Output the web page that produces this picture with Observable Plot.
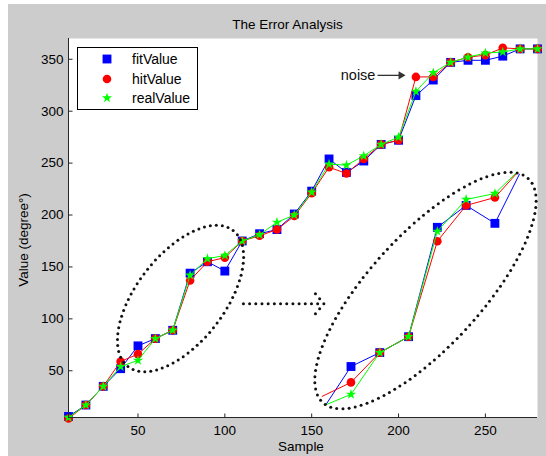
<!DOCTYPE html>
<html><head><meta charset="utf-8">
<script src="https://cdn.jsdelivr.net/npm/d3@7"></script>
<script src="https://cdn.jsdelivr.net/npm/@observablehq/plot@0.6"></script>
<style>
body{margin:0;background:#fff;font-family:"Liberation Sans",Arial,sans-serif;color:#000;}
#fig{position:absolute;left:8px;top:4px;width:538px;height:452px;background:#cccccc;}
.lbl{position:absolute;white-space:nowrap;transform:translate(-50%,-50%);font-size:13.5px;line-height:normal;}
#legend{position:absolute;left:77px;top:47px;width:119px;height:61px;border:1px solid #000;background:#fff;}
.li{position:absolute;font-size:14px;white-space:nowrap;transform:translateY(-50%);}
.lm{position:absolute;}
</style></head><body>
<div id="fig"></div>
<div class="lbl" style="left:287.5px;top:24px">The Error Analysis</div>
<div class="lbl" style="left:301px;top:446px">Sample</div>
<div class="lbl" style="left:22.5px;top:240px;transform:translate(-50%,-50%) rotate(-90deg)">Value (degree°)</div>
<div id="legend"></div>
<script>
// ---- data ----
const samples = [10,20,30,40,50,60,70,80,90,100,110,120,130,140,150,160,170,180,190,200,210,220,230,240,250,260,270,280];
const fitValue = [6,17,35,52,74,81,89,144,155,146,175,182,186,201,223,254,241,252,268,272,315,330,347,349,349,353,360,360];
const hitValue = [4,17,35,59,66,81,89,137,155,159,175,180,186,199,221,246,240,254,268,272,333,333,347,352,354,361,360,360];
const realValue = [5,17,35,54,60,81,89,142,158,161,175,181,193,200,222,249,248,257,268,275,319,337,347,352,356,357,360,360];
const seriesNames = ["fitValue","hitValue","realValue"];
const xTicks = [50,100,150,200,250];
const yTicks = [50,100,150,200,250,300,350];
const noiseLabel = "noise";

// ---- layout / annotation config ----
const W=538,H=452,mL=60,mR=9,mT=34,mB=39;
const xDom=[10,280], yDom=[5,370];
const pxX=(W-mL-mR)/(xDom[1]-xDom[0]), pxY=(H-mT-mB)/(yDom[1]-yDom[0]);
const styles = [
  {color:"#0000ff", symbol:"square", r:5},
  {color:"#ff0000", symbol:"circle", r:4.3},
  {color:"#00ff00", symbol:"star", r:3.2}
];
// zoomed inset: source range and mapping
const insetRange=[40,110], insetMarkers=[50,100];
const insetFrom=[60,80], insetTo=[189.2,65.6], insetK=[1.657,1.915];
const ellipses=[{x:74.5,y:119.6,a:86,b:44,angle:-52.3},{x:215.5,y:127.3,a:152,b:56,angle:-47.5}];
const dotArrow={x1:110.7,x2:157,y:114.5};
const noiseArrow={x1:187.9,x2:204,y:334.5,textX:186.7};

const toData=(x,y,dxp,dyp)=>({x:x+dxp/pxX,y:y-dyp/pxY});
function ellipseDots(e,gap){
  const N=3000,th=e.angle*Math.PI/180,pts=[];let len=[0];
  for(let i=0;i<=N;i++){const t=2*Math.PI*i/N;const ex=e.a*Math.cos(t),ey=e.b*Math.sin(t);
    pts.push([ex*Math.cos(th)-ey*Math.sin(th),ex*Math.sin(th)+ey*Math.cos(th)]);
    if(i>0)len.push(len[i-1]+Math.hypot(pts[i][0]-pts[i-1][0],pts[i][1]-pts[i-1][1]));}
  const P=len[N],n=Math.round(P/gap),out=[];let j=0;
  for(let k=0;k<n;k++){const L=k*P/n;while(len[j]<L)j++;out.push(toData(e.x,e.y,pts[j][0],pts[j][1]));}
  return out;
}
const annDots=[...ellipseDots(ellipses[0],6),...ellipseDots(ellipses[1],6.2)];
{ const x2p=(dotArrow.x2-dotArrow.x1)*pxX,n=Math.round(x2p/6);
  for(let k=0;k<=n;k++)annDots.push(toData(dotArrow.x1,dotArrow.y,k*x2p/n,0));
  for(const s of [1,2])for(const sg of [-1,1])annDots.push(toData(dotArrow.x2,dotArrow.y,-4.2*s,sg*5*s));
}

const values=[fitValue,hitValue,realValue];
const main=values.map(v=>samples.map((s,i)=>({x:s,y:v[i]})));
const insetRows=values.map(v=>samples.map((s,i)=>({s,x:insetTo[0]+insetK[0]*(s-insetFrom[0]),y:insetTo[1]+insetK[1]*(v[i]-insetFrom[1])}))
  .filter(d=>d.s>=insetRange[0]&&d.s<=insetRange[1]));

const marks=[Plot.frame({fill:"white",stroke:"none"})];
values.forEach((v,k)=>{const st=styles[k];
  marks.push(Plot.line(main[k],{x:"x",y:"y",stroke:st.color,strokeWidth:1}));
  marks.push(Plot.dot(main[k],{x:"x",y:"y",symbol:st.symbol,r:st.r,fill:st.color,stroke:"none"}));
});
values.forEach((v,k)=>{const st=styles[k];
  marks.push(Plot.line(insetRows[k],{x:"x",y:"y",stroke:st.color,strokeWidth:1}));
  marks.push(Plot.dot(insetRows[k].filter(d=>d.s>=insetMarkers[0]&&d.s<=insetMarkers[1]),{x:"x",y:"y",symbol:st.symbol,r:st.r,fill:st.color,stroke:"none"}));
});
marks.push(Plot.dot(annDots,{x:"x",y:"y",r:1.5,fill:"#111",stroke:"none"}));
const tip=toData(noiseArrow.x2,noiseArrow.y,-4.6,0);
marks.push(Plot.link([noiseArrow],{x1:"x1",x2:d=>tip.x,y1:"y",y2:"y",stroke:"#333",strokeWidth:1.3}));
marks.push(Plot.dot([tip],{x:"x",y:"y",symbol:"triangle",r:3,rotate:90,fill:"#333",stroke:"none"}));
marks.push(Plot.text([noiseArrow],{x:"textX",y:"y",text:d=>noiseLabel,textAnchor:"end",fontSize:14.5,fill:"#111"}));
marks.push(Plot.ruleX([xDom[0]],{stroke:"#262626"}));
marks.push(Plot.ruleY([yDom[0]],{stroke:"#262626"}));
marks.push(Plot.link(xTicks,{x1:d=>d,x2:d=>d,y1:yDom[0],y2:yDom[0]+4/pxY,stroke:"#262626"}));
marks.push(Plot.link(yTicks,{y1:d=>d,y2:d=>d,x1:xDom[0],x2:xDom[0]+4/pxX,stroke:"#262626"}));
marks.push(Plot.axisX({ticks:xTicks,tickSize:0,tickPadding:8,label:null}));
marks.push(Plot.axisY({ticks:yTicks,tickSize:0,tickPadding:5,label:null}));

const svg=Plot.plot({width:W,height:H,marginLeft:mL,marginRight:mR,marginTop:mT,marginBottom:mB,
  x:{domain:xDom,nice:false},y:{domain:yDom,nice:false},
  style:{background:"transparent",fontFamily:"'Liberation Sans',Arial,sans-serif",fontSize:"13.5px",color:"#000",overflow:"visible"},
  marks});
// clip inset lines (the 4th-6th line marks) to the right ellipse
{ const e=ellipses[1],cx=mL+(e.x-xDom[0])*pxX,cy=mT+(yDom[1]-e.y)*pxY;
  const ns="http://www.w3.org/2000/svg";
  const defs=document.createElementNS(ns,"defs"),cp=document.createElementNS(ns,"clipPath");
  cp.setAttribute("id","insetClip");
  const el=document.createElementNS(ns,"ellipse");
  el.setAttribute("cx",cx);el.setAttribute("cy",cy);el.setAttribute("rx",e.a);el.setAttribute("ry",e.b);
  el.setAttribute("transform",`rotate(${e.angle},${cx},${cy})`);
  cp.appendChild(el);defs.appendChild(cp);svg.insertBefore(defs,svg.firstChild);
  const lineGroups=[...svg.querySelectorAll('g[aria-label="line"]')];
  lineGroups.slice(3).forEach(g=>g.setAttribute("clip-path","url(#insetClip)"));
}
document.getElementById("fig").appendChild(svg);

// legend
const leg=document.body;
const rowsY=[59.3,79,98.3];
const symMap={square:d3.symbolSquare,circle:d3.symbolCircle,star:d3.symbolStar};
seriesNames.forEach((name,k)=>{const st=styles[k];
  const s=document.createElementNS("http://www.w3.org/2000/svg","svg");
  s.setAttribute("width",14);s.setAttribute("height",14);s.setAttribute("class","lm");
  s.style.left=(107-7)+"px";s.style.top=(rowsY[k]-7)+"px";
  const p=document.createElementNS("http://www.w3.org/2000/svg","path");
  p.setAttribute("d",d3.symbol(symMap[st.symbol],Math.PI*st.r*st.r)());
  p.setAttribute("transform","translate(7,7)");p.setAttribute("fill",st.color);
  s.appendChild(p);leg.appendChild(s);
  const t=document.createElement("div");t.className="li";t.textContent=name;
  t.style.left="132px";t.style.top=rowsY[k]+"px";leg.appendChild(t);
});
</script></body></html>
